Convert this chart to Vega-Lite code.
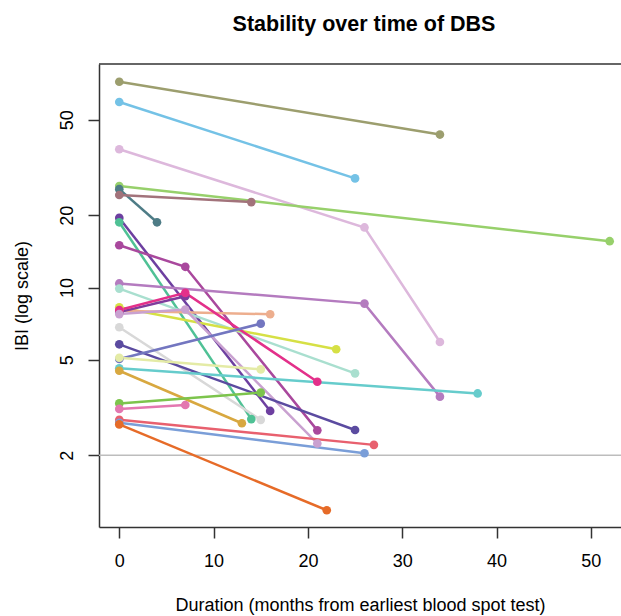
{
  "$schema": "https://vega.github.io/schema/vega-lite/v6.json",
  "width": 522,
  "height": 463,
  "autosize": {"type": "none"},
  "padding": {"left": 99, "top": 64, "right": 0, "bottom": 89},
  "background": "white",
  "config": {
    "view": {"stroke": null},
    "font": "Liberation Sans"
  },
  "title": {
    "text": "Stability over time of DBS",
    "fontSize": 21.5,
    "fontWeight": "bold",
    "font": "Liberation Sans",
    "color": "#000000",
    "anchor": "middle",
    "dx": 4,
    "offset": 11,
    "baseline": "alphabetic"
  },
  "datasets": {
    "pts": [
      {"id": "s01", "t": 0, "v": 72}, {"id": "s01", "t": 34, "v": 43.4},
      {"id": "s02", "t": 0, "v": 59.3}, {"id": "s02", "t": 25, "v": 28.5},
      {"id": "s03", "t": 0, "v": 37.7}, {"id": "s03", "t": 26, "v": 17.8}, {"id": "s03", "t": 34, "v": 5.93},
      {"id": "s04", "t": 0, "v": 26.5}, {"id": "s04", "t": 52, "v": 15.6},
      {"id": "s05", "t": 0, "v": 25.7}, {"id": "s05", "t": 4, "v": 18.7},
      {"id": "s06", "t": 0, "v": 24.3}, {"id": "s06", "t": 14, "v": 22.7},
      {"id": "s07", "t": 0, "v": 19.5}, {"id": "s07", "t": 16, "v": 3.06},
      {"id": "s08", "t": 0, "v": 18.7}, {"id": "s08", "t": 14, "v": 2.83},
      {"id": "s09", "t": 0, "v": 15.0}, {"id": "s09", "t": 7, "v": 12.2}, {"id": "s09", "t": 21, "v": 2.54},
      {"id": "s10", "t": 0, "v": 10.4}, {"id": "s10", "t": 26, "v": 8.57}, {"id": "s10", "t": 34, "v": 3.51},
      {"id": "s11", "t": 0, "v": 9.9}, {"id": "s11", "t": 25, "v": 4.39},
      {"id": "s12", "t": 0, "v": 8.28}, {"id": "s12", "t": 23, "v": 5.53},
      {"id": "s13", "t": 0, "v": 8.0}, {"id": "s13", "t": 16, "v": 7.74},
      {"id": "s13b", "t": 0, "v": 7.9}, {"id": "s13b", "t": 7, "v": 9.2},
      {"id": "s14", "t": 0, "v": 8.06}, {"id": "s14", "t": 7, "v": 9.5}, {"id": "s14", "t": 21, "v": 4.05},
      {"id": "s15", "t": 0, "v": 7.75}, {"id": "s15", "t": 7, "v": 8.1}, {"id": "s15", "t": 21, "v": 2.24},
      {"id": "s16", "t": 0, "v": 6.83}, {"id": "s16", "t": 15, "v": 2.81},
      {"id": "s17", "t": 0, "v": 5.8}, {"id": "s17", "t": 25, "v": 2.55},
      {"id": "s18", "t": 0, "v": 5.04}, {"id": "s18", "t": 15, "v": 7.07},
      {"id": "s19", "t": 0, "v": 5.1}, {"id": "s19", "t": 15, "v": 4.56},
      {"id": "s20", "t": 0, "v": 4.61}, {"id": "s20", "t": 38, "v": 3.62},
      {"id": "s21", "t": 0, "v": 4.5}, {"id": "s21", "t": 13, "v": 2.72},
      {"id": "s22", "t": 0, "v": 3.29}, {"id": "s22", "t": 15, "v": 3.65},
      {"id": "s23", "t": 0, "v": 3.12}, {"id": "s23", "t": 7, "v": 3.24},
      {"id": "s24", "t": 0, "v": 2.81}, {"id": "s24", "t": 27, "v": 2.21},
      {"id": "s25", "t": 0, "v": 2.73}, {"id": "s25", "t": 26, "v": 2.04},
      {"id": "s26", "t": 0, "v": 2.69}, {"id": "s26", "t": 22, "v": 1.18}
    ],
    "ref": [{"v": 2}],
    "top": [{"v": 85.4}]
  },
  "layer": [
    {
      "data": {"name": "ref"},
      "mark": {"type": "rule", "color": "#BDBDBD", "strokeWidth": 1.5},
      "encoding": {
        "y": {"field": "v", "type": "quantitative", "scale": {"type": "log", "domain": [1.005, 85.4], "nice": false}}
      }
    },
    {
      "data": {"name": "top"},
      "mark": {"type": "rule", "color": "#333333", "strokeWidth": 1.5},
      "encoding": {
        "y": {"field": "v", "type": "quantitative"}
      }
    },
    {
      "data": {"name": "pts"},
      "mark": {"type": "line", "strokeWidth": 2.5, "clip": true},
      "encoding": {
        "x": {"field": "t", "type": "quantitative"},
        "y": {"field": "v", "type": "quantitative"},
        "detail": {"field": "id"},
        "color": {"field": "id", "type": "nominal", "legend": null}
      }
    },
    {
      "data": {"name": "pts"},
      "mark": {"type": "circle", "size": 75, "opacity": 1},
      "encoding": {
        "x": {
          "field": "t", "type": "quantitative",
          "scale": {"domain": [-2.15, 53.2], "nice": false, "zero": false},
          "axis": {
            "values": [0, 10, 20, 30, 40, 50],
            "title": "Duration (months from earliest blood spot test)",
            "grid": false,
            "domainColor": "#333333", "domainWidth": 1.5,
            "tickColor": "#333333", "tickWidth": 1.5, "tickSize": 11,
            "labelFontSize": 18, "labelColor": "#000000", "labelPadding": 14, "labelFont": "Liberation Sans",
            "titleFontSize": 18, "titleFontWeight": "normal", "titleColor": "#000000", "titlePadding": 26, "titleFont": "Liberation Sans"
          }
        },
        "y": {
          "field": "v", "type": "quantitative",
          "axis": {
            "values": [2, 5, 10, 20, 50],
            "title": "IBI (log scale)",
            "grid": false,
            "domainColor": "#333333", "domainWidth": 1.5,
            "tickColor": "#333333", "tickWidth": 1.5, "tickSize": 11,
            "labelAngle": 270, "labelAlign": "center", "labelBaseline": "bottom",
            "labelFontSize": 18, "labelColor": "#000000", "labelPadding": 12, "labelFont": "Liberation Sans",
            "titleFontSize": 18, "titleFontWeight": "normal", "titleColor": "#000000", "titlePadding": 27, "titleFont": "Liberation Sans"
          }
        },
        "color": {
          "field": "id", "type": "nominal", "legend": null,
          "scale": {
            "domain": ["s01","s02","s03","s04","s05","s06","s07","s08","s09","s10","s11","s12","s13","s13b","s14","s15","s16","s17","s18","s19","s20","s21","s22","s23","s24","s25","s26"],
            "range": ["#9C9E6E","#74C2E6","#DDB8DC","#97D06B","#4E7C86","#A2737B","#6D3FA0","#4FC195","#A9489D","#B47BBF","#A9DFCF","#D6E045","#EDAE8E","#7E3C9C","#E3308A","#C9A1D0","#D8D8D8","#5B4BA0","#7376C0","#E4EBA6","#66CCCC","#D8A840","#7CC44C","#E377B0","#E8606E","#7A9ED8","#E66B28"]
          }
        }
      }
    }
  ]
}
